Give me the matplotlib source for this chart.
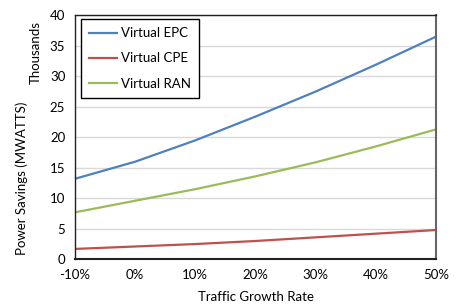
import matplotlib
matplotlib.use("Agg")
import matplotlib.pyplot as plt
import numpy as np

growth = [-10, 0, 10, 20, 30, 40, 50]
tick_labels = ["-10%", "0%", "10%", "20%", "30%", "40%", "50%"]
epc = [13.2, 16.0, 19.5, 23.4, 27.5, 31.9, 36.5]
cpe = [1.7, 2.1, 2.5, 3.0, 3.6, 4.2, 4.8]
ran = [7.7, 9.6, 11.5, 13.6, 15.9, 18.5, 21.3]

plt.rcParams['font.family'] = ['Lato', 'DejaVu Sans']
fs = 9.5

fig = plt.figure(figsize=(4.61, 3.07), dpi=100)
ax = fig.add_axes([75/461, 1 - 259.3/307, (436 - 75)/461, (259.3 - 15.3)/307])

ax.plot(growth, epc, color="#4f81bd", lw=1.6, label="Virtual EPC")
ax.plot(growth, cpe, color="#c0504d", lw=1.6, label="Virtual CPE")
ax.plot(growth, ran, color="#9bbb59", lw=1.6, label="Virtual RAN")

ax.set_xlim(-10, 50)
ax.set_ylim(0, 40)
ax.set_xticks(growth)
ax.set_xticklabels(tick_labels)
ax.set_yticks(np.arange(0, 41, 5))
ax.tick_params(length=0, labelsize=fs, pad=7)
ax.yaxis.grid(True, color="#d9d9d9", lw=1)
ax.set_axisbelow(True)
for s in ax.spines.values():
    s.set_color("#222222")
    s.set_linewidth(1.0)
ax.spines["right"].set_color("#666666")
ax.spines["right"].set_linewidth(1.5)
ax.spines["bottom"].set_linewidth(1.5)

ax.set_xlabel("Traffic Growth Rate", fontsize=fs, labelpad=7)
fig.text(22/461, 1 - 178/307, "Power Savings (MWATTS)", rotation=90,
         ha="center", va="center", fontsize=fs)
fig.text(36/461, 1 - 52/307, "Thousands", rotation=90,
         ha="center", va="center", fontsize=fs)

leg = ax.legend(loc="upper left", bbox_to_anchor=(6/361, 1 - 4/244),
                fontsize=fs, fancybox=False, framealpha=1,
                edgecolor="black", borderpad=0.6, labelspacing=1.0,
                handlelength=2.1, handletextpad=0.3, borderaxespad=0)
leg.get_frame().set_linewidth(1.0)

fig.savefig("out.png", dpi=100)
